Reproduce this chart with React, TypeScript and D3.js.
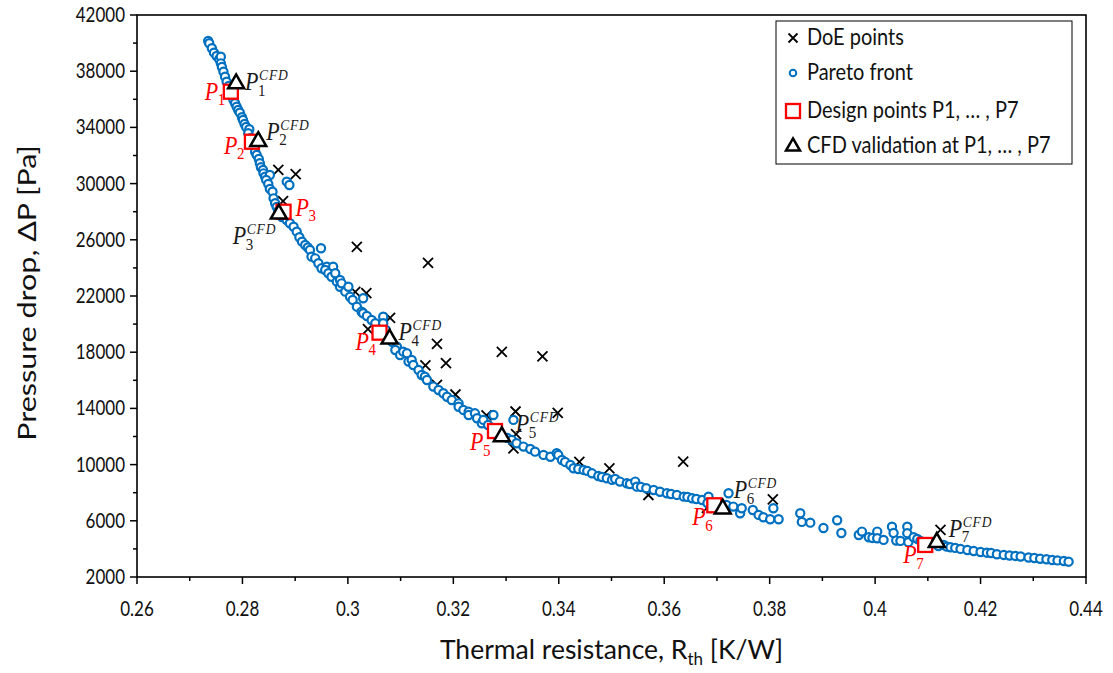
import React from "react";
import * as d3 from "d3";

// ---------- DATA ----------
const doeR = [0.2868, 0.2901, 0.2877, 0.3017, 0.3152, 0.3014, 0.3035, 0.3080, 0.3038, 0.3169, 0.3186, 0.3147, 0.3292, 0.3369, 0.3169, 0.3204, 0.3318, 0.3398, 0.3263, 0.3319, 0.3314, 0.3439, 0.3496, 0.3636, 0.3570, 0.3681, 0.3806, 0.4124];
const doeDP = [30970, 30680, 28760, 25490, 24350, 22290, 22210, 20440, 19650, 18585, 17230, 17055, 18016, 17695, 15667, 14990, 13780, 13674, 13496, 12177, 11162, 10200, 9738, 10208, 7836, 6913, 7532, 5348];

const paretoR = [
  0.2735, 0.2737, 0.2742, 0.2746, 0.2751, 0.2756, 0.2759, 0.2759, 0.2761, 0.2764,
  0.2767, 0.2770, 0.2774, 0.2777, 0.2780, 0.2783, 0.2786, 0.2789, 0.2792, 0.2795,
  0.2799, 0.2801, 0.2804, 0.2807, 0.2813, 0.2811, 0.2816, 0.2820, 0.2824, 0.2827,
  0.2831, 0.2833, 0.2835, 0.2839, 0.2840, 0.2843, 0.2852, 0.2845, 0.2849, 0.2852,
  0.2857, 0.2859, 0.2862, 0.2865, 0.2868, 0.2871, 0.2875, 0.2884, 0.2889, 0.2884,
  0.2890, 0.2897, 0.2903, 0.2908, 0.2913, 0.2919, 0.2924, 0.2928, 0.2949, 0.2931,
  0.2938, 0.2944, 0.2950, 0.2960, 0.2972, 0.2957, 0.2963, 0.2969, 0.2976, 0.2979,
  0.2985, 0.2985, 0.2988, 0.2995, 0.3001, 0.3004, 0.3009, 0.3017, 0.3029, 0.3026,
  0.3029, 0.3036, 0.3045, 0.3052, 0.3067, 0.3067, 0.3072, 0.3084, 0.3093, 0.3090,
  0.3099, 0.3105, 0.3112, 0.3115, 0.3121, 0.3124, 0.3134, 0.3140, 0.3146, 0.3150,
  0.3162, 0.3172, 0.3181, 0.3188, 0.3197, 0.3210, 0.3210, 0.3219, 0.3229, 0.3229,
  0.3241, 0.3245, 0.3254, 0.3257, 0.3276, 0.3266, 0.3302, 0.3311, 0.3314, 0.3320,
  0.3333, 0.3346, 0.3355, 0.3371, 0.3384, 0.3396, 0.3399, 0.3406, 0.3412, 0.3422,
  0.3428, 0.3437, 0.3447, 0.3454, 0.3463, 0.3475, 0.3482, 0.3491, 0.3501, 0.3507,
  0.3516, 0.3529, 0.3535, 0.3545, 0.3548, 0.3556, 0.3566, 0.3580, 0.3592, 0.3605,
  0.3613, 0.3624, 0.3637, 0.3644, 0.3653, 0.3661, 0.3672, 0.3684, 0.3682, 0.3722,
  0.3718, 0.3731, 0.3744, 0.3747, 0.3768, 0.3779, 0.3788, 0.3801, 0.3807, 0.3817,
  0.3858, 0.3861, 0.3877, 0.3902, 0.3928, 0.3936, 0.3969, 0.3975, 0.3988, 0.3995,
  0.4004, 0.4004, 0.4016, 0.4032, 0.4035, 0.4040, 0.4048, 0.4061, 0.4061, 0.4063,
  0.4073, 0.4080, 0.4086, 0.4105, 0.4120, 0.4130, 0.4136, 0.4143, 0.4152, 0.4162,
  0.4175, 0.4187, 0.4200, 0.4212, 0.4220, 0.4231, 0.4244, 0.4255, 0.4266, 0.4276,
  0.4291, 0.4302, 0.4313, 0.4325, 0.4336, 0.4346, 0.4358, 0.4367,
];
const paretoDP = [
  40150, 39990, 39630, 39320, 39080, 38850, 39030, 38560, 38300, 37960,
  37610, 37250, 36950, 36590, 36240, 35950, 35720, 35470, 35240, 35050,
  34720, 34530, 34240, 34030, 33870, 33580, 33250, 32750, 32270, 32040,
  31750, 31450, 31160, 30970, 30730, 30490, 30610, 30260, 29970, 29620,
  29420, 28950, 28600, 28340, 28050, 27840, 27620, 30140, 29900, 27410,
  27180, 26930, 26580, 26180, 25870, 25630, 25450, 25280, 25400, 24800,
  24680, 24330, 23970, 24090, 24090, 23850, 23620, 23370, 23620, 23020,
  23140, 22660, 22900, 22310, 22660, 21950, 21720, 21240, 21840, 20880,
  20770, 20580, 20290, 20060, 20530, 20060, 19580, 18730, 18390, 18160,
  17800, 18040, 17920, 17330, 17450, 17090, 16730, 16380, 16260, 16020,
  15550, 15310, 15080, 14830, 14600, 14360, 14120, 13890, 13770, 13530,
  13650, 13300, 12940, 13180, 13530, 12820, 11900, 11750, 13180, 11520,
  11280, 11110, 10920, 10690, 10560, 10810, 10690, 10330, 10190, 9970,
  9740, 9690, 9620, 9550, 9380, 9190, 9120, 9030, 8910, 8980,
  8790, 8670, 8620, 8790, 8430, 8410, 8320, 8190, 8070, 7960,
  7910, 7840, 7720, 7700, 7600, 7550, 7480, 7720, 7270, 7960,
  7130, 7010, 6540, 6890, 6770, 6420, 6250, 6110, 6890, 6110,
  6540, 5920, 5870, 5490, 6040, 5130, 4990, 5230, 4830, 4780,
  5230, 4760, 4640, 5580, 5130, 4590, 4570, 5580, 5120, 4480,
  4830, 4710, 4570, 4350, 4210, 4280, 4160, 4120, 4070, 4000,
  3920, 3850, 3780, 3730, 3710, 3620, 3570, 3530, 3500, 3460,
  3390, 3350, 3300, 3260, 3210, 3180, 3140, 3090,
];

const designR = [0.2778, 0.2818, 0.2878, 0.3060, 0.3279, 0.3695, 0.4095];
const designDP = [36540, 32980, 28000, 19390, 12390, 7105, 4280];
const cfdR = [0.2788, 0.2830, 0.2869, 0.3079, 0.3292, 0.3711, 0.4117];
const cfdDP = [37160, 33050, 27890, 18990, 12040, 6890, 4515];
const pointIds = ["1", "2", "3", "4", "5", "6", "7"];

const xTicks = [0.26, 0.28, 0.3, 0.32, 0.34, 0.36, 0.38, 0.4, 0.42, 0.44];
const xTickLabels = ["0.26", "0.28", "0.3", "0.32", "0.34", "0.36", "0.38", "0.4", "0.42", "0.44"];
const yTicks = [2000, 6000, 10000, 14000, 18000, 22000, 26000, 30000, 34000, 38000, 42000];
const yTickLabels = ["2000", "6000", "10000", "14000", "18000", "22000", "26000", "30000", "34000", "38000", "42000"];
const xMinor = [0.27, 0.29, 0.31, 0.33, 0.35, 0.37, 0.39, 0.41, 0.43];
const yMinor = [4000, 8000, 12000, 16000, 20000, 24000, 28000, 32000, 36000, 40000];

const legendLabels = ["DoE points", "Pareto front", "Design points P1, \u2026 , P7", "CFD validation at P1, \u2026 , P7"];

// label offsets in pixels (annotation placement)
const designLabelOffset = [[-26, 8], [-28, 12], [12, 4], [-24, 17], [-25, 19], [-22, 20], [-22, 18]];
const cfdLabelOffset = [[9, 7], [8, -1], [-46, 31], [9, 2], [14, -4], [11, -10], [12, -5]];

// ---------- LAYOUT ----------
const W = 1113, H = 673;
const L = 137, R = 1086, T = 15, B = 577;
const FONT = "Lato, 'Open Sans', sans-serif";
const MATH = "'Liberation Serif', 'DejaVu Serif', serif";
const BLUE = "#0070C0";
const RED = "#FF0000";
const INK = "#111";

const x = d3.scaleLinear().domain([0.26, 0.44]).range([L, R]);
const y = d3.scaleLinear().domain([2000, 42000]).range([B, T]);

const tri = (cx: number, cy: number, s: number) => {
  const h = s * 0.866;
  return `M${cx},${cy - h * 0.62}L${cx + s / 2},${cy + h * 0.38}L${cx - s / 2},${cy + h * 0.38}Z`;
};
const cross = (cx: number, cy: number, s: number) =>
  `M${cx - s},${cy - s}L${cx + s},${cy + s}M${cx - s},${cy + s}L${cx + s},${cy - s}`;

function PLabel({ px, py, id, color, cfd }: { px: number; py: number; id: string; color: string; cfd: boolean }) {
  return (
    <g fill={color} fontFamily={MATH} fontStyle="italic" transform={`translate(${px},${py}) scale(1,1.12)`}>
      <text x={0} y={0} fontSize={22}>P</text>
      {cfd && (
        <text x={14} y={-9} fontSize={13.5} letterSpacing={0.8}>CFD</text>
      )}
      <text x={13} y={5} fontSize={15} fontStyle="normal">{id}</text>
    </g>
  );
}

export default function App() {
  const legX = 776, legY = 21, legW = 296, legH = 143;
  const rowY = [38, 73, 111, 146];
  const mx = 793;
  return (
    <svg width={W} height={H} style={{ position: "absolute", left: 0, top: 0, background: "#fff" }}>
      <rect x={0} y={0} width={W} height={H} fill="#fff" />
      {/* ticks */}
      <g stroke="#000" strokeWidth={1.5}>
        {xTicks.map((t) => (
          <line key={"xt" + t} x1={x(t)} x2={x(t)} y1={B} y2={B + 7} />
        ))}
        {xMinor.map((t) => (
          <line key={"xm" + t} x1={x(t)} x2={x(t)} y1={B} y2={B + 4} />
        ))}
        {yTicks.map((t) => (
          <line key={"yt" + t} x1={L - 7} x2={L} y1={y(t)} y2={y(t)} />
        ))}
        {yMinor.map((t) => (
          <line key={"ym" + t} x1={L - 4} x2={L} y1={y(t)} y2={y(t)} />
        ))}
      </g>
      <rect x={L} y={T} width={R - L} height={B - T} fill="none" stroke="#000" strokeWidth={1.6} />
      {/* tick labels */}
      <g fontFamily={FONT} fontSize={17} fill={INK}>
        {xTicks.map((t, i) => (
          <text key={"xl" + t} transform={`translate(${x(t)},${B + 39}) scale(1,1.22)`} textAnchor="middle">{xTickLabels[i]}</text>
        ))}
        {yTicks.map((t, i) => (
          <text key={"yl" + t} transform={`translate(${L - 12},${y(t) + 7}) scale(1,1.22)`} textAnchor="end">{yTickLabels[i]}</text>
        ))}
      </g>
      {/* axis titles */}
      <text x={(L + R) / 2} y={659} textAnchor="middle" fontFamily={FONT} fontSize={26.5} fill={INK}>
        Thermal resistance, R<tspan fontSize={17} dy={6}>th</tspan><tspan dy={-6}> [K/W]</tspan>
      </text>
      <text
        transform={`translate(36,${(T + B) / 2 - 3}) rotate(-90) scale(1.22,1)`}
        textAnchor="middle"
        fontFamily={FONT}
        fontSize={25}
        fill={INK}
      >
        Pressure drop, ΔP [Pa]
      </text>
      {/* DoE points */}
      <g stroke="#000" strokeWidth={1.8} fill="none">
        {doeR.map((r, i) => (
          <path key={"d" + i} d={cross(x(r), y(doeDP[i]), 5)} />
        ))}
      </g>
      {/* Pareto front */}
      <g stroke={BLUE} strokeWidth={2.2} fill="#fff">
        {paretoR.map((r, i) => (
          <circle key={"p" + i} cx={x(r)} cy={y(paretoDP[i])} r={4.1} />
        ))}
      </g>
      {/* design points */}
      <g stroke={RED} strokeWidth={2.3} fill="#fff">
        {designR.map((r, i) => (
          <rect key={"s" + i} x={x(r) - 7} y={y(designDP[i]) - 7} width={14} height={14} />
        ))}
      </g>
      {/* CFD */}
      <g stroke="#000" strokeWidth={2.5} fill="#fff" strokeLinejoin="miter">
        {cfdR.map((r, i) => (
          <path key={"c" + i} d={tri(x(r), y(cfdDP[i]), 16)} />
        ))}
      </g>
      {/* labels */}
      {designR.map((r, i) => (
        <PLabel key={"dl" + i} px={x(r) + designLabelOffset[i][0]} py={y(designDP[i]) + designLabelOffset[i][1]} id={pointIds[i]} color={RED} cfd={false} />
      ))}
      {cfdR.map((r, i) => (
        <PLabel key={"cl" + i} px={x(r) + cfdLabelOffset[i][0]} py={y(cfdDP[i]) + cfdLabelOffset[i][1]} id={pointIds[i]} color="#1a1a1a" cfd={true} />
      ))}
      {/* legend */}
      <rect x={legX} y={legY} width={legW} height={legH} fill="#fff" stroke="#000" strokeWidth={1} />
      <path d={cross(mx, rowY[0], 4.5)} stroke="#000" strokeWidth={1.8} />
      <circle cx={mx} cy={rowY[1]} r={3.3} stroke={BLUE} strokeWidth={2} fill="#fff" />
      <rect x={mx - 7} y={rowY[2] - 7} width={14} height={14} stroke={RED} strokeWidth={2.3} fill="#fff" />
      <path d={tri(mx, rowY[3], 14)} stroke="#000" strokeWidth={2.5} fill="#fff" />
      <g fontFamily={FONT} fontSize={20} fill={INK}>
        {legendLabels.map((t, i) => (
          <text key={"lg" + i} transform={`translate(807,${rowY[i] + 7}) scale(1,1.12)`}>{t}</text>
        ))}
      </g>
    </svg>
  );
}
